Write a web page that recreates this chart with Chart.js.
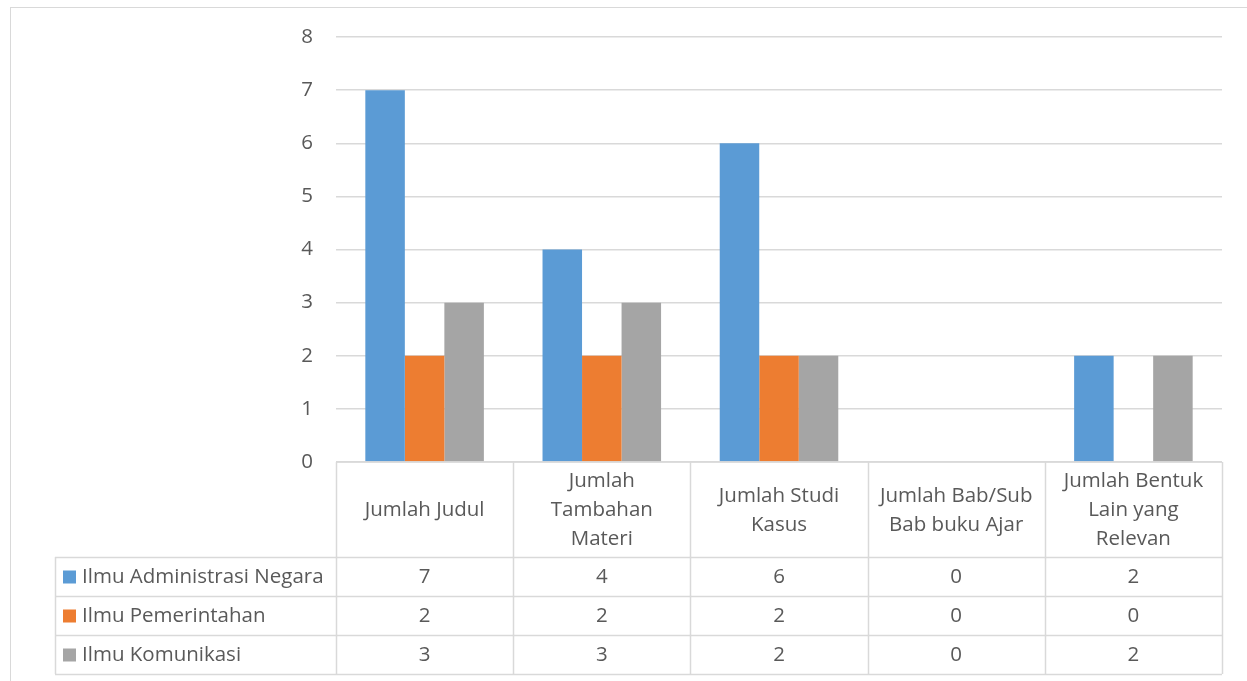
<!DOCTYPE html>
<html>
<head>
<meta charset="utf-8">
<script src="https://cdn.jsdelivr.net/npm/chart.js@4"></script>
<style>
  html, body { margin: 0; padding: 0; background: #fff; overflow: hidden; }
  #frame { position: absolute; left: 10px; top: 7px; width: 1260px; height: 700px; border: 1px solid #d9d9d9; box-sizing: border-box; }
  #wrap { position: absolute; left: 0; top: 0; width: 1247px; height: 681px; }
</style>
</head>
<body>
<div id="frame"></div>
<div id="wrap"><canvas id="chart"></canvas></div>
<script>
// data
const categories = [
    ['Jumlah Judul'],
    ['Jumlah', 'Tambahan', 'Materi'],
    ['Jumlah Studi', 'Kasus'],
    ['Jumlah Bab/Sub', 'Bab buku Ajar'],
    ['Jumlah Bentuk', 'Lain yang', 'Relevan']
];
const seriesNames = ['Ilmu Administrasi Negara', 'Ilmu Pemerintahan', 'Ilmu Komunikasi'];
const adminNegara = [7, 4, 6, 0, 2];
const pemerintahan = [2, 2, 2, 0, 0];
const komunikasi = [3, 3, 2, 0, 2];
const yTicks = [0, 1, 2, 3, 4, 5, 6, 7, 8];

const colors = ['#5B9BD5', '#ED7D31', '#A5A5A5'];
const textColor = '#595959';
const lineColor = '#d9d9d9';
const fontFamily = '"Open Sans", Lato, sans-serif';
const fontSize = 20.5;

const headerHeight = 95;
const rowHeight = 39;
const tableLeft = 55;

// draws the excel-style data table under the plot
const dataTable = {
    id: 'dataTable',
    afterDraw(chart) {
        const ctx = chart.ctx;
        const ca = chart.chartArea;
        const x = chart.scales.x;
        const n = categories.length;
        const w = (ca.right - ca.left) / n;
        const top = ca.bottom;
        const rowsTop = top + headerHeight;
        const bottom = rowsTop + rowHeight * chart.data.datasets.length;

        ctx.save();
        ctx.strokeStyle = lineColor;
        ctx.lineWidth = 1.5;

        // header grid
        ctx.beginPath();
        ctx.moveTo(ca.left, top);
        ctx.lineTo(ca.right, top);
        for (let i = 0; i <= n; i++) {
            const px = Math.round(ca.left + i * w) + 0.5;
            ctx.moveTo(px, top);
            ctx.lineTo(px, bottom);
        }
        // rows
        for (let r = 0; r <= chart.data.datasets.length; r++) {
            const py = Math.round(rowsTop + r * rowHeight) + 0.5;
            ctx.moveTo(tableLeft, py);
            ctx.lineTo(ca.right, py);
        }
        ctx.moveTo(tableLeft + 0.5, rowsTop);
        ctx.lineTo(tableLeft + 0.5, bottom);
        ctx.stroke();

        ctx.font = fontSize + 'px ' + fontFamily;
        ctx.fillStyle = textColor;
        ctx.textAlign = 'center';
        ctx.textBaseline = 'middle';

        // header labels
        const lh = 29;
        categories.forEach((lines, i) => {
            const cx = x.getPixelForValue(i);
            const cy = top + headerHeight / 2 + 1;
            lines.forEach((t, k) => {
                ctx.fillText(t, cx, cy + (k - (lines.length - 1) / 2) * lh);
            });
        });

        // rows with legend keys
        chart.data.datasets.forEach((ds, r) => {
            const cy = rowsTop + r * rowHeight + rowHeight / 2 + 1;
            ctx.fillStyle = ds.backgroundColor;
            ctx.fillRect(tableLeft + 8, cy - 7, 13, 13);
            ctx.fillStyle = textColor;
            ctx.textAlign = 'left';
            ctx.fillText(ds.label, tableLeft + 27, cy);
            ctx.textAlign = 'center';
            ds.data.forEach((v, i) => {
                ctx.fillText(String(v), x.getPixelForValue(i), cy);
            });
        });
        ctx.restore();
    }
};

const ctx = document.getElementById('chart').getContext('2d');
new Chart(ctx, {
    type: 'bar',
    data: {
        labels: categories,
        datasets: [
            { label: seriesNames[0], data: adminNegara, backgroundColor: colors[0] },
            { label: seriesNames[1], data: pemerintahan, backgroundColor: colors[1] },
            { label: seriesNames[2], data: komunikasi, backgroundColor: colors[2] }
        ]
    },
    options: {
        responsive: true,
        maintainAspectRatio: false,
        animation: false,
        datasets: {
            bar: { barPercentage: 1, categoryPercentage: 0.669, borderWidth: 0 }
        },
        layout: { padding: { left: 300, right: 25, top: 37, bottom: 219 } },
        plugins: {
            legend: { display: false },
            tooltip: { enabled: false }
        },
        scales: {
            x: {
                ticks: { display: false },
                grid: { display: false },
                border: { display: false },
                afterFit: s => { s.height = 0; }
            },
            y: {
                min: yTicks[0],
                max: yTicks[yTicks.length - 1],
                ticks: {
                    stepSize: 1,
                    padding: 23,
                    color: textColor,
                    font: { family: fontFamily, size: fontSize }
                },
                grid: { color: lineColor, lineWidth: 1.5, drawTicks: false },
                border: { display: false },
                afterFit: s => { s.width = 36; }
            }
        }
    },
    plugins: [dataTable]
});
</script>
</body>
</html>
